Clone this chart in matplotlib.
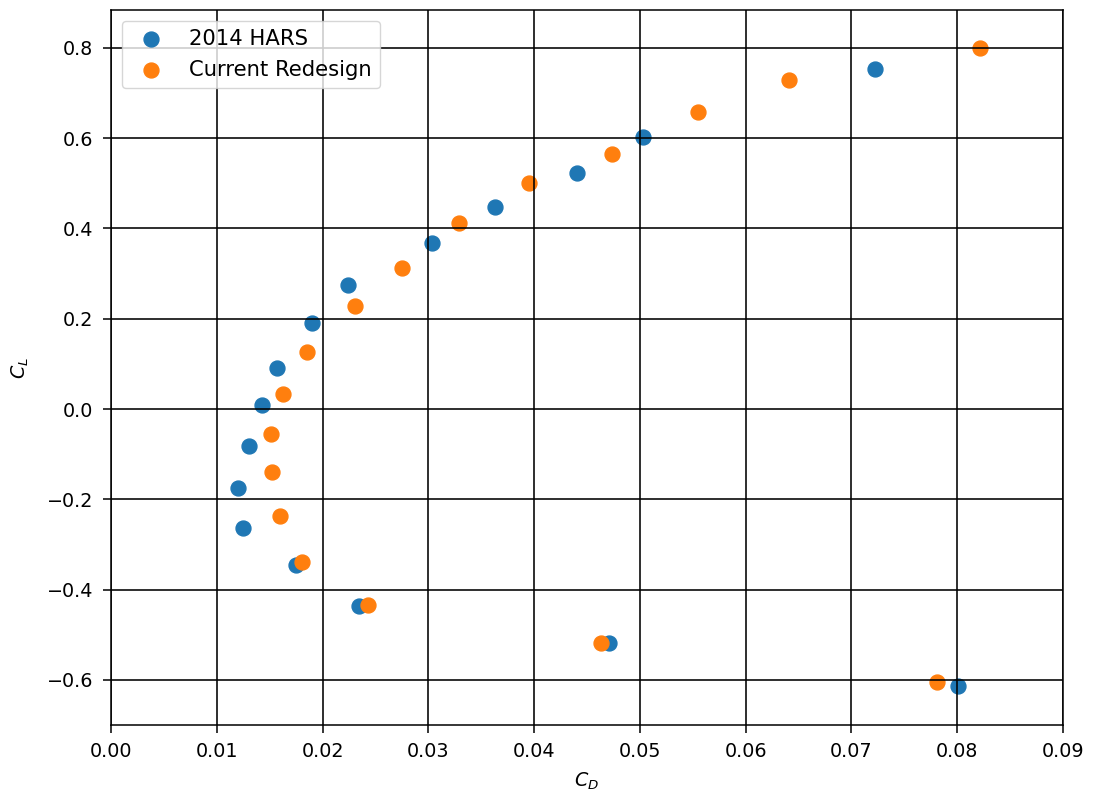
import matplotlib
matplotlib.use("Agg")
import matplotlib.pyplot as plt

hars_cd = [0.0722, 0.0503, 0.0441, 0.0363, 0.0303, 0.0224, 0.0190, 0.0157, 0.0143,
           0.0130, 0.0120, 0.0125, 0.0175, 0.0234, 0.0471, 0.0801]
hars_cl = [0.754, 0.602, 0.522, 0.447, 0.367, 0.274, 0.190, 0.091, 0.009,
           -0.082, -0.175, -0.263, -0.345, -0.436, -0.518, -0.613]

redesign_cd = [0.0822, 0.0641, 0.0555, 0.0474, 0.0395, 0.0329, 0.0275, 0.0231, 0.0185,
               0.0163, 0.0151, 0.0152, 0.0160, 0.0181, 0.0243, 0.0463, 0.0781]
redesign_cl = [0.799, 0.728, 0.657, 0.564, 0.500, 0.412, 0.312, 0.228, 0.126,
               0.033, -0.055, -0.139, -0.237, -0.338, -0.434, -0.518, -0.604]

plt.rcParams['font.size'] = 13.8
plt.rcParams['xtick.major.size'] = 5.8
plt.rcParams['ytick.major.size'] = 5.8
plt.rcParams['xtick.major.pad'] = 6.5
plt.rcParams['ytick.major.pad'] = 7.0
plt.rcParams['xtick.major.width'] = 1.1
plt.rcParams['ytick.major.width'] = 1.1
plt.rcParams['axes.linewidth'] = 1.1

fig = plt.figure(figsize=(10.96, 7.96), dpi=100)
ax = fig.add_axes([111/1096, 1-725/796, (1063-111)/1096, (725-10)/796])

ax.scatter(hars_cd, hars_cl, s=115, color='#1f77b4', label='2014 HARS', zorder=2)
ax.scatter(redesign_cd, redesign_cl, s=115, color='#ff7f0e', label='Current Redesign', zorder=2)

ax.set_xlim(0, 0.09)
ax.set_ylim(-0.7, 0.884)
ax.set_xticks([i/100 for i in range(10)])
ax.set_yticks([-0.6, -0.4, -0.2, 0.0, 0.2, 0.4, 0.6, 0.8])
ax.grid(True, color='black', linewidth=1.15, zorder=3)
ax.set_axisbelow(False)
ax.set_xlabel('$C_D$', labelpad=7)
ax.set_ylabel('$C_L$', labelpad=11)
ax.legend(loc='upper left', fontsize=15.2, borderaxespad=0.5)

fig.savefig('out.png', dpi=100)
